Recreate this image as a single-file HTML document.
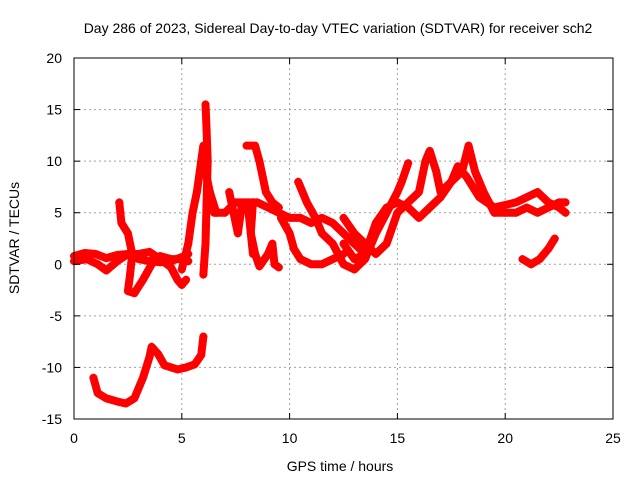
<!DOCTYPE html>
<html><head><meta charset="utf-8">
<style>
html,body{margin:0;padding:0;background:#fff;}
svg{display:block;font-family:"Liberation Sans",sans-serif;}
</style></head>
<body>
<svg id="chart" width="640" height="480" viewBox="0 0 640 480">
<rect x="0" y="0" width="640" height="480" fill="#fff"/>
<text x="338" y="33" font-size="14" text-anchor="middle">Day 286 of 2023, Sidereal Day-to-day VTEC variation (SDTVAR) for receiver sch2</text>
<g id="grid"></g>
<g id="series"></g>
<rect x="74" y="58" width="539" height="361" fill="none" stroke="#000" stroke-width="1"/>
<g id="ticks"></g>
<text x="0" y="0" font-size="14" text-anchor="middle" transform="translate(19,238) rotate(-90)">SDTVAR / TECUs</text>
<text x="340" y="471" font-size="14" text-anchor="middle">GPS time / hours</text>
</svg>
<script>
const xTicks = [0,5,10,15,20,25];
const yTicks = [-15,-10,-5,0,5,10,15,20];
const trackA = [[0.9,-11],[1.1,-12.5],[1.5,-13],[2.0,-13.3],[2.4,-13.5],[2.8,-13],[3.2,-11],[3.5,-9],[3.6,-8],[3.9,-8.7],[4.2,-9.8],[4.8,-10.2],[5.2,-10],[5.6,-9.7],[5.9,-8.8],[6.0,-7]];
const trackB = [[0,0.8],[0.5,1.1],[1,1],[1.5,0.6],[2,0.9],[2.5,1],[3,0.5],[3.5,0.3],[4,0.2],[4.5,0.3],[5,0.7],[5.3,1.0]];
const trackC = [[0,0.3],[0.6,0.5],[1.1,0],[1.5,-0.6],[2,0.3],[2.5,1],[3,1],[3.5,1.2],[4,0.5],[4.5,-0.3],[4.8,-1.5],[5,-2.0],[5.2,-1.5]];
const trackD = [[2.1,6],[2.2,4],[2.5,3],[2.7,1],[2.6,-1],[2.5,-2.6],[2.8,-2.8],[3.2,-1.5],[3.6,0],[4.0,0.8],[4.5,0.5],[5,0.5],[5.3,0.3]];
const trackE = [[5.0,-0.5],[5.3,2],[5.5,5],[5.7,7],[5.9,10],[6.0,11.5],[6.1,9],[6.3,7],[6.6,5]];
const trackF = [[6.0,-1],[6.1,2],[6.15,6],[6.2,10],[6.15,13],[6.1,15.5]];
const trackG = [[6.3,7],[6.5,5],[7,5],[7.5,6],[8,6],[8.5,6],[9,5.5],[9.5,5],[10,4.5],[10.5,4.5],[11,4],[11.5,4.5],[12,4],[12.5,3],[13,2],[13.5,1]];
const trackH = [[8,11.5],[8.4,11.5],[8.6,10],[8.9,7],[9.2,6],[9.5,5.5]];
const trackI = [[8.3,6],[8.2,3],[8.4,1],[8.6,-0.2],[9.0,1],[9.2,2],[9.3,0],[9.5,-0.3]];
const trackJ = [[7.2,7],[7.4,5],[7.6,3],[7.8,6],[8.1,5],[8.2,3],[8.3,1]];
const trackK = [[10.4,8],[10.8,6],[11.2,4.5],[11.5,3],[12,2],[12.5,0],[13,-0.5],[13.5,0.5],[14,3],[14.5,5],[15,7],[15.2,8],[15.5,9.8]];
const trackL = [[12.5,4.5],[13,3],[13.5,2],[14,1],[14.5,2],[15,5],[15.5,6],[16,7],[16.3,10],[16.5,11],[16.8,9],[17,7],[17.5,8],[18,9],[18.3,11.5],[18.6,9],[19,7],[19.5,5],[20,5],[20.5,5],[21,5.5],[21.5,5],[22,5.5],[22.5,6],[22.8,6]];
const trackM = [[12.5,2],[13,0.5],[13.5,1],[14,4],[14.5,5.5],[15,6],[15.5,5.5],[16,4.5],[16.5,5.5],[17,6.5],[17.5,8],[17.8,9.5],[18.2,8.5],[18.8,6.5],[19.5,5.5],[20.5,6],[21,6.5],[21.5,7],[22,6],[22.5,5.5],[22.8,5]];
const trackN = [[20.8,0.5],[21.2,0],[21.6,0.5],[22,1.5],[22.3,2.5]];
const trackO = [[9.6,4.5],[10,3],[10.2,1.5],[10.5,0.5],[11,0],[11.5,0],[12,0.5],[12.5,1]];
const tracks = [trackA,trackB,trackC,trackD,trackE,trackF,trackG,trackH,trackI,trackJ,trackK,trackL,trackM,trackN,trackO];

const X0=74,X1=613,Y0=419,Y1=58;
function sx(v){return X0+(v-0)/(25-0)*(X1-X0);}
function sy(v){return Y0-(v+15)/(20+15)*(Y0-Y1);}
const NS="http://www.w3.org/2000/svg";
function mk(tag,attrs,parent){const e=document.createElementNS(NS,tag);for(const k in attrs)e.setAttribute(k,attrs[k]);parent.appendChild(e);return e;}
const grid=document.getElementById('grid'),ticks=document.getElementById('ticks'),series=document.getElementById('series');
xTicks.forEach(t=>{
  const x=sx(t);
  if(t>0&&t<25){const g=mk('line',{x1:x,x2:x,y1:Y1,y2:Y0,stroke:'#a0a0a0','stroke-dasharray':'2,3'},grid);
  
  }
  mk('line',{x1:x,x2:x,y1:Y0,y2:Y0-6,stroke:'#000'},ticks);
  mk('line',{x1:x,x2:x,y1:Y1,y2:Y1+6,stroke:'#000'},ticks);
  const l=mk('text',{x:x,y:443,'font-size':14,'text-anchor':'middle'},ticks);
  l.textContent=t;
  
  
});
yTicks.forEach(t=>{
  const y=sy(t);
  if(t>-15&&t<20){const g=mk('line',{x1:X0,x2:X1,y1:y,y2:y,stroke:'#a0a0a0','stroke-dasharray':'2,3'},grid);
  
  }
  mk('line',{x1:X0,x2:X0+6,y1:y,y2:y,stroke:'#000'},ticks);
  mk('line',{x1:X1,x2:X1-6,y1:y,y2:y,stroke:'#000'},ticks);
  const l=mk('text',{x:62,y:y+5,'font-size':14,'text-anchor':'end'},ticks);
  l.textContent=t;
  
  
});
tracks.forEach((tr,i)=>{
  const g=mk('g',{},series);
  
  
  const pts=tr.map(p=>sx(p[0])+','+sy(p[1])).join(' ');
  mk('polyline',{points:pts,fill:'none',stroke:'#f00','stroke-width':8,'stroke-linejoin':'round','stroke-linecap':'round'},g);
  tr.forEach(p=>{
    const x=sx(p[0]),y=sy(p[1]);
    const m=mk('path',{d:`M${x-4},${y}H${x+4}M${x},${y-4}V${y+4}`,stroke:'#f00','stroke-width':1.2},g);
    
    
  });
});
</script>
</body></html>
